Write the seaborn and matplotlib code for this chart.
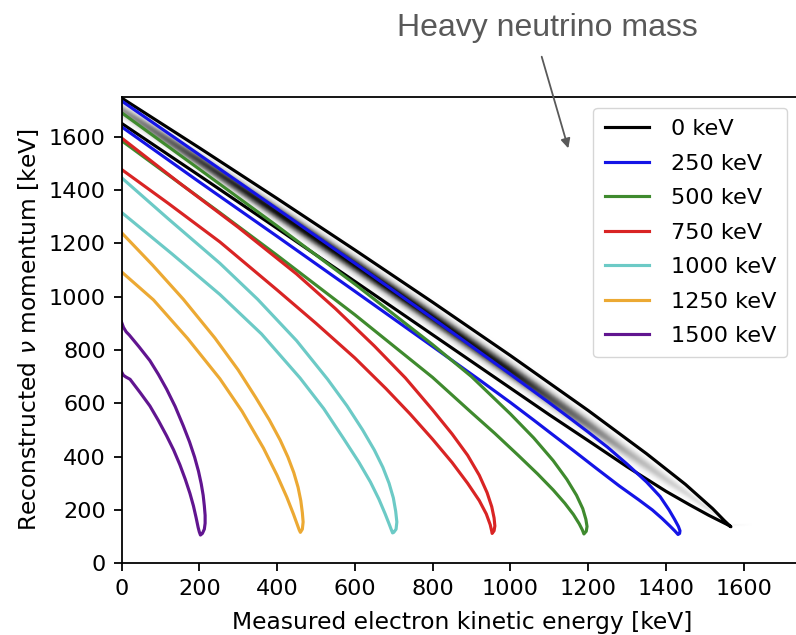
import numpy as np
import pandas as pd
import matplotlib
matplotlib.use("Agg")
import matplotlib.pyplot as plt
import seaborn as sns

# Heavy-neutrino masses shown as separate kinematic contours
mass_labels = ["0 keV", "250 keV", "500 keV", "750 keV", "1000 keV", "1250 keV", "1500 keV"]
line_colors = ["#000000", "#1414e6", "#3f8a2e", "#d92424", "#6ccac6", "#eca933", "#611590"]

# Each contour: outer (upper) edge from T=0 down to the tip,
# inner (lower) edge from T=0 down to the tip.  T = electron kinetic energy [keV],
# p = reconstructed neutrino momentum [keV].
outer_T_0 = [0, 200, 400, 600, 800, 1000, 1200, 1350, 1450, 1520, 1550, 1563, 1567]
outer_p_0 = [1745, 1558, 1368, 1175, 979, 779, 573, 411, 296, 205, 160, 142, 137]
inner_T_0 = [0, 200, 400, 600, 800, 1000, 1100, 1200, 1300, 1400, 1460, 1510, 1540, 1558, 1567]
inner_p_0 = [1650, 1454, 1256, 1057, 857, 657, 557, 460, 362, 270, 220, 180, 158, 145, 137]

outer_T_250 = [0, 200, 400, 600, 800, 1000, 1100, 1153, 1200, 1250, 1300, 1350, 1385, 1408, 1422, 1432, 1436, 1435, 1431]
outer_p_250 = [1734, 1532, 1329, 1125, 919, 709, 602, 544, 492, 435, 372, 305, 250, 200, 165, 138, 122, 112, 108]
inner_T_250 = [0, 200, 400, 600, 800, 922, 1000, 1059, 1100, 1160, 1220, 1280, 1330, 1365, 1390, 1410, 1423, 1431]
inner_p_250 = [1637, 1430, 1226, 1020, 813, 686, 603, 538, 492, 425, 357, 290, 238, 200, 168, 140, 121, 108]

outer_T_500 = [0, 200, 400, 600, 800, 900, 1000, 1060, 1110, 1145, 1170, 1186, 1194, 1197, 1195, 1189]
outer_p_500 = [1690, 1478, 1265, 1047, 820, 700, 560, 470, 385, 315, 255, 205, 165, 138, 120, 110]
inner_T_500 = [0, 100, 250, 400, 600, 800, 900, 960, 1020, 1070, 1110, 1140, 1162, 1177, 1185, 1189]
inner_p_500 = [1585, 1478, 1318, 1155, 932, 697, 565, 487, 405, 335, 275, 225, 183, 148, 125, 110]

outer_T_750 = [0, 150, 300, 450, 550, 650, 730, 800, 850, 890, 920, 940, 952, 958, 960, 958, 953]
outer_p_750 = [1595, 1425, 1260, 1085, 955, 815, 695, 575, 485, 405, 330, 265, 212, 170, 140, 122, 112]
inner_T_750 = [0, 120, 253, 400, 500, 600, 680, 742, 800, 850, 890, 920, 938, 948, 952, 953]
inner_p_750 = [1477, 1350, 1205, 1025, 900, 770, 655, 560, 465, 378, 300, 235, 185, 145, 120, 112]

outer_T_1000 = [0, 120, 253, 350, 450, 530, 580, 620, 650, 672, 688, 699, 705, 708, 706, 700, 697]
outer_p_1000 = [1446, 1292, 1125, 990, 835, 690, 590, 500, 425, 360, 300, 245, 195, 155, 128, 116, 114]
inner_T_1000 = [0, 130, 253, 360, 459, 520, 570, 610, 640, 662, 678, 688, 694, 697]
inner_p_1000 = [1316, 1160, 1008, 860, 695, 580, 470, 380, 305, 240, 185, 148, 125, 114]

outer_T_1250 = [0, 80, 159, 240, 300, 345, 380, 408, 428, 443, 454, 461, 465, 467, 465, 460]
outer_p_1250 = [1240, 1118, 990, 845, 725, 622, 538, 462, 398, 340, 285, 235, 190, 155, 128, 116]
inner_T_1250 = [0, 82, 170, 253, 310, 365, 400, 425, 442, 452, 457, 460]
inner_p_1250 = [1093, 988, 843, 692, 570, 432, 330, 248, 185, 145, 125, 116]

outer_T_1500 = [0, 5, 12, 20, 45, 73, 95, 116, 138, 159, 175, 188, 198, 205, 210, 213, 215, 215, 213, 208, 203]
outer_p_1500 = [905, 885, 868, 856, 812, 760, 708, 653, 588, 515, 455, 398, 345, 298, 255, 215, 180, 150, 128, 112, 106]
inner_T_1500 = [0, 5, 12, 22, 48, 73, 95, 116, 134, 150, 164, 176, 185, 192, 197, 200, 203]
inner_p_1500 = [718, 705, 698, 690, 640, 590, 535, 478, 425, 370, 315, 262, 215, 170, 135, 118, 106]

# Event density inside the massless contour: strength along T
shade_T = [0, 60, 200, 400, 700, 1000, 1150, 1300, 1450, 1560, 1620]
shade_level = [0.5, 0.6, 0.8, 0.95, 1.0, 0.9, 0.68, 0.42, 0.25, 0.12, 0.0]

x_ticks = [0, 200, 400, 600, 800, 1000, 1200, 1400, 1600]
y_ticks = [0, 200, 400, 600, 800, 1000, 1200, 1400, 1600]

contours = [
    (outer_T_0, outer_p_0, inner_T_0, inner_p_0),
    (outer_T_250, outer_p_250, inner_T_250, inner_p_250),
    (outer_T_500, outer_p_500, inner_T_500, inner_p_500),
    (outer_T_750, outer_p_750, inner_T_750, inner_p_750),
    (outer_T_1000, outer_p_1000, inner_T_1000, inner_p_1000),
    (outer_T_1250, outer_p_1250, inner_T_1250, inner_p_1250),
    (outer_T_1500, outer_p_1500, inner_T_1500, inner_p_1500),
]

rows = []
for label, (oT, op, iT, ip) in zip(mass_labels, contours):
    T_loop = list(oT) + list(iT)[::-1]
    p_loop = list(op) + list(ip)[::-1]
    for k, (t, p) in enumerate(zip(T_loop, p_loop)):
        rows.append({"mass": label, "step": k, "T": t, "p": p})
df = pd.DataFrame(rows)

SCALE = 1.61
plt.rcParams.update({
    "font.family": ["DejaVu Sans"],
    "font.size": 10 * SCALE,
    "axes.linewidth": 0.8 * SCALE,
    "xtick.major.size": 3.5 * SCALE,
    "ytick.major.size": 3.5 * SCALE,
    "xtick.major.width": 0.8 * SCALE,
    "ytick.major.width": 0.8 * SCALE,
    "xtick.major.pad": 3.5 * SCALE,
    "ytick.major.pad": 3.5 * SCALE,
})

fig = plt.figure(figsize=(7.96, 6.35), dpi=100)
ax = fig.add_axes([121.5 / 796, 71.7 / 635, 680.6 / 796, 466.7 / 635])

# density shading inside the 0 keV contour
gT = np.linspace(0, 1750, 876)
gp = np.linspace(0, 1750, 876)
GT, GP = np.meshgrid(gT, gp)
p_hi = np.interp(gT, outer_T_0, outer_p_0)
p_lo = np.interp(gT, inner_T_0, inner_p_0)
width = np.maximum(p_hi - p_lo, 10.0)
u = (GP - p_lo[None, :]) / width[None, :]
amp = np.interp(gT, shade_T, shade_level)
Z = amp[None, :] * np.exp(-((u - 0.5) / 0.26) ** 2)
ax.imshow(Z, extent=(0, 1750, 0, 1750), origin="lower", cmap="Greys",
          vmin=0, vmax=1, aspect="auto", interpolation="bilinear", zorder=0)

sns.lineplot(data=df, x="T", y="p", hue="mass", hue_order=mass_labels,
             palette=dict(zip(mass_labels, line_colors)), sort=False,
             estimator=None, linewidth=1.4 * SCALE, ax=ax)

ax.set_xlim(0, 1750)
ax.set_ylim(0, 1750)
ax.set_xticks(x_ticks)
ax.set_yticks(y_ticks)
ax.set_xlabel("Measured electron kinetic energy [keV]", fontsize=16.8, labelpad=9.0)
ax.set_ylabel(r"Reconstructed $\nu$ momentum [keV]", fontsize=16.8, labelpad=6.0)

handles, labels = ax.get_legend_handles_labels()
ax.legend(handles, labels, loc="upper right", bbox_to_anchor=(0.978, 0.976),
          borderaxespad=0, fontsize=10 * SCALE, labelspacing=0.65,
          handletextpad=0.95, borderpad=0.5)

fig.text(547.5 / 796, 1 - 36 / 635, "Heavy neutrino mass", ha="center",
         va="baseline", fontsize=23, color="#595959", family=["Liberation Sans"])
ax.annotate("", xy=(568.3 / 796, 1 - 148.3 / 635), xytext=(541.7 / 796, 1 - 56.7 / 635),
            xycoords="figure fraction", textcoords="figure fraction",
            arrowprops=dict(arrowstyle="-|>", color="#595959", lw=1.3,
                            mutation_scale=14, shrinkA=0, shrinkB=0),
            annotation_clip=False)

fig.savefig("out.png", dpi=100)
